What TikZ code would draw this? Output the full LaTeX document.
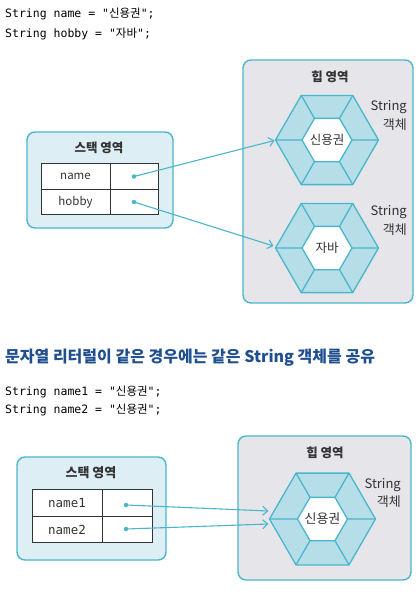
\documentclass[tikz,border=0pt]{standalone}
\usepackage{fontspec}
\setmainfont{Noto Sans CJK KR}
\newfontfamily\kr{Noto Sans CJK KR}
\newfontfamily\mono{DejaVu Sans Mono}
\usetikzlibrary{arrows.meta,calc}
\definecolor{tealc}{HTML}{4AB6CB}
\definecolor{stackfill}{HTML}{DDEFF4}
\definecolor{heapfill}{HTML}{E6E6EA}
\definecolor{ringfill}{HTML}{B5DEE8}
\definecolor{headblue}{HTML}{1F4F8F}
\definecolor{txt}{HTML}{333333}
\newcommand{\hexobj}[7]{% name, x, y, R, r, text, font size
  \begin{scope}[shift={(#2,#3)}]
    \draw[hexline, fill=ringfill] (#4,0) -- (#4/2,0.866*#4) -- (-#4/2,0.866*#4) -- (-#4,0) -- (-#4/2,-0.866*#4) -- (#4/2,-0.866*#4) -- cycle;
    \draw[hexline, fill=white] (#5,0) -- (#5/2,0.866*#5) -- (-#5/2,0.866*#5) -- (-#5,0) -- (-#5/2,-0.866*#5) -- (#5/2,-0.866*#5) -- cycle;
    \draw[hexline] (#5,0) -- (#4,0) (-#5,0) -- (-#4,0)
      (#5/2,0.866*#5) -- (#4/2,0.866*#4) (-#5/2,0.866*#5) -- (-#4/2,0.866*#4)
      (#5/2,-0.866*#5) -- (#4/2,-0.866*#4) (-#5/2,-0.866*#5) -- (-#4/2,-0.866*#4);
    \node[hextext, font=\fontsize{#7}{14}\selectfont] (#1) at (0,0) {#6};
    \coordinate (#1L) at (-#4,0);
  \end{scope}}
\begin{document}
\begin{tikzpicture}[x=1pt,y=-1pt,
  codetext/.style={anchor=west, inner sep=0pt, font=\fontsize{11.5}{13}\selectfont, text=black},
  stackbox/.style={draw=tealc, line width=1.4pt, fill=stackfill, rounded corners=8pt, inner sep=0pt},
  heapbox/.style={draw=tealc, line width=1.4pt, fill=heapfill, rounded corners=8pt, inner sep=0pt},
  areatitle/.style={font=\bfseries\fontsize{12.5}{14}\selectfont, text=txt, inner sep=0pt},
  cell/.style={draw=txt, line width=1pt, fill=white, inner sep=0pt, font=\fontsize{11.5}{13}\selectfont, text=txt},
  hexline/.style={draw=tealc, line width=1.3pt},
  hextext/.style={text=txt, inner sep=0pt},
  objlabel/.style={anchor=east, inner sep=0pt, font=\fontsize{13}{15}\selectfont, text=txt},
  refarrow/.style={draw=tealc, line width=1.1pt, -{Straight Barb[length=5pt,width=9pt]}},
  refdot/.style={circle, fill=tealc, inner sep=0pt, minimum size=4.5pt}
]
\useasboundingbox (0,0) rectangle (416,598);
% ---- top code
\node[codetext] (c1) at (5,14) {{\mono String name = "}{\kr 신용권}{\mono ";}};
\node[codetext] (c2) at (5,34) {{\mono String hobby = "}{\kr 자바}{\mono ";}};
% ---- top stack
\node[stackbox, minimum width=146pt, minimum height=96pt] (stack1) at (100,180) {};
\node[areatitle] (st1) at (99,148) {스택 영역};
\node[cell, minimum width=69pt, minimum height=25.5pt] (n1) at (75.5,176.5) {name};
\node[cell, minimum width=48pt, minimum height=25.5pt] (v1) at (134,176.5) {};
\node[cell, minimum width=69pt, minimum height=25.5pt] (n2) at (75.5,202) {hobby};
\node[cell, minimum width=48pt, minimum height=25.5pt] (v2) at (134,202) {};
% ---- top heap
\node[heapbox, minimum width=170pt, minimum height=243pt] (heap1) at (328,181.5) {};
\node[areatitle] (ht1) at (330,77) {힙 영역};
\hexobj{h1}{327}{140}{51.5}{25}{신용권}{12.5}
\hexobj{h2}{327}{248}{51.5}{25}{자바}{12.5}
\node[objlabel] (s1) at (407,107) {String};
\node[objlabel] (o1) at (407,125) {객체};
\node[objlabel] (s2) at (407,212) {String};
\node[objlabel] (o2) at (407,230) {객체};
\node[refdot] (d1) at (v1) {};
\node[refdot] (d2) at (v2) {};
\coordinate (e1) at ($(h1L)+(-1,0.5)$);
\coordinate (e2) at ($(h2L)+(-2,-2)$);
\draw[refarrow] (d1.center) -- (e1);
\draw[refarrow] (d2.center) -- (e2);
% ---- heading
\node[anchor=west, inner sep=0pt, font=\bfseries\fontsize{16}{18}\selectfont, text=headblue] (head) at (5,358) {문자열 리터럴이 같은 경우에는 같은 String 객체를 공유};
\node[codetext] (c3) at (5,392) {{\mono String name1 = "}{\kr 신용권}{\mono ";}};
\node[codetext] (c4) at (5,410) {{\mono String name2 = "}{\kr 신용권}{\mono ";}};
% ---- bottom stack
\node[stackbox, minimum width=149pt, minimum height=103pt] (stack2) at (91.5,508.5) {};
\node[areatitle, font=\bfseries\fontsize{13}{15}\selectfont] (st2) at (91,473) {스택 영역};
\node[cell, minimum width=70pt, minimum height=26.5pt, font=\mono\fontsize{12.5}{14}\selectfont] (n3) at (67,503) {name1};
\node[cell, minimum width=50pt, minimum height=26.5pt] (v3) at (127,503) {};
\node[cell, minimum width=70pt, minimum height=26.5pt, font=\mono\fontsize{12.5}{14}\selectfont] (n4) at (67,529.5) {name2};
\node[cell, minimum width=50pt, minimum height=26.5pt] (v4) at (127,529.5) {};
% ---- bottom heap
\node[heapbox, minimum width=173pt, minimum height=144pt] (heap2) at (324.5,508) {};
\node[areatitle] (ht2) at (325,453) {힙 영역};
\hexobj{h3}{322.5}{519}{53}{25}{신용권}{13}
\node[objlabel] (s3) at (401,485) {String};
\node[objlabel] (o3) at (401,502) {객체};
\node[refdot] (d3) at (126,505) {};
\node[refdot] (d4) at (126,529) {};
\coordinate (e3) at ($(h3L)+(-1,-8)$);
\coordinate (e4) at ($(h3L)+(-1,5)$);
\draw[refarrow] (d3.center) -- (e3);
\draw[refarrow] (d4.center) -- (e4);
\end{tikzpicture}
\end{document}
